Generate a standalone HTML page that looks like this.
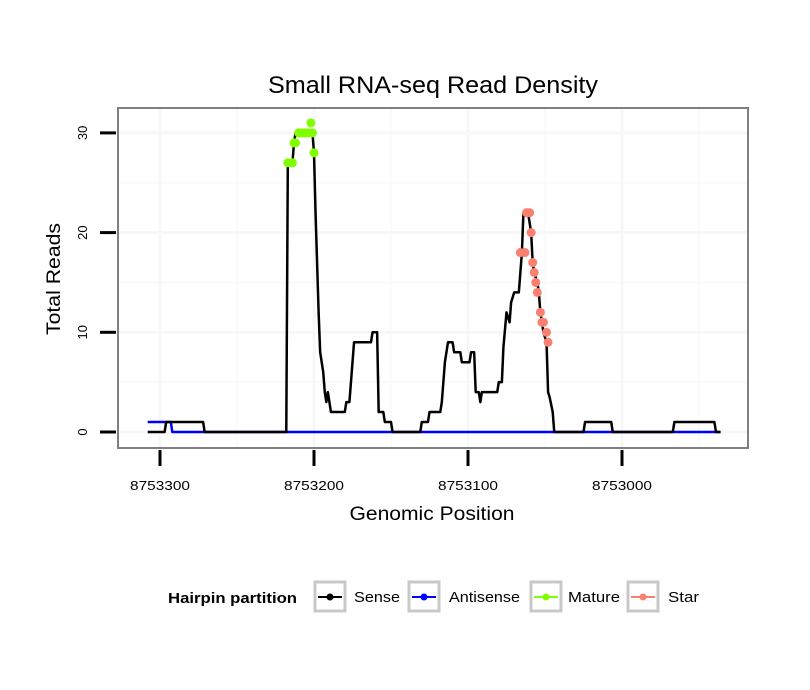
<!DOCTYPE html>
<html><head><meta charset="utf-8"><style>
html,body{margin:0;padding:0;background:#fff}
svg{display:block;font-family:"Liberation Sans",sans-serif}
</style></head><body>
<svg id="chart" width="810" height="690" viewBox="0 0 810 690">
<rect x="0" y="0" width="810" height="690" fill="#fff"/>
<text x="433" y="93" font-size="24" text-anchor="middle" textLength="330" lengthAdjust="spacingAndGlyphs">Small RNA-seq Read Density</text>
<g id="grid"></g>
<g id="series"></g>
<rect x="118" y="108" width="630" height="340" fill="none" stroke="#808080" stroke-width="2"/>
<g id="axes"></g>
<text x="432" y="520" font-size="19" text-anchor="middle" textLength="165" lengthAdjust="spacingAndGlyphs">Genomic Position</text>
<text transform="translate(60,279) rotate(-90)" font-size="19" text-anchor="middle" textLength="112" lengthAdjust="spacingAndGlyphs">Total Reads</text>
<g>
<text x="168" y="603" font-size="15" font-weight="bold" textLength="129" lengthAdjust="spacingAndGlyphs">Hairpin partition</text>
<g><rect x="315" y="582" width="30" height="29" fill="#fff" stroke="#c8c8c8" stroke-width="3"/><line x1="318" y1="597" x2="342" y2="597" stroke="#000" stroke-width="2"/><circle cx="330" cy="597" r="3.5" fill="#000"/><text x="354" y="602" font-size="15" textLength="46" lengthAdjust="spacingAndGlyphs">Sense</text></g>
<g><rect x="409" y="582" width="30" height="29" fill="#fff" stroke="#c8c8c8" stroke-width="3"/><line x1="412" y1="597" x2="436" y2="597" stroke="#0000ff" stroke-width="2"/><circle cx="424" cy="597" r="3.5" fill="#0000ff"/><text x="449" y="602" font-size="15" textLength="71" lengthAdjust="spacingAndGlyphs">Antisense</text></g>
<g><rect x="531" y="582" width="30" height="29" fill="#fff" stroke="#c8c8c8" stroke-width="3"/><line x1="534" y1="597" x2="558" y2="597" stroke="#7fff00" stroke-width="2"/><circle cx="546" cy="597" r="3.5" fill="#7fff00"/><text x="568" y="602" font-size="15" textLength="52" lengthAdjust="spacingAndGlyphs">Mature</text></g>
<g><rect x="628" y="582" width="30" height="29" fill="#fff" stroke="#c8c8c8" stroke-width="3"/><line x1="631" y1="597" x2="655" y2="597" stroke="#fa8072" stroke-width="2"/><circle cx="643" cy="597" r="3.5" fill="#fa8072"/><text x="668" y="602" font-size="15" textLength="31" lengthAdjust="spacingAndGlyphs">Star</text></g>
</g>
</svg>
<script>
const xTicks = [8753300, 8753200, 8753100, 8753000];
const xMinor = [8753250, 8753150, 8753050, 8752950];
const yTicks = [0, 10, 20, 30];
const yMinor = [5, 15, 25];
const sensePos = [8753308,8753297,8753296,8753272,8753271,8753218,8753217,8753214,8753213,8753212,8753201,8753200,8753199,8753197,8753196,8753194,8753193,8753192,8753191,8753190,8753189,8753180,8753179,8753177,8753176,8753174,8753163,8753162,8753159,8753158,8753155,8753154,8753150,8753149,8753131,8753130,8753126,8753125,8753118,8753117,8753115,8753113,8753110,8753109,8753105,8753104,8753099,8753098,8753096,8753095,8753093,8753092,8753091,8753081,8753080,8753078,8753077,8753075,8753073,8753072,8753070,8753067,8753065,8753064,8753061,8753059,8753058,8753057,8753055,8753054,8753053,8753052,8753051,8753049,8753048,8753047,8753045,8753044,8753025,8753024,8753007,8753006,8752967,8752966,8752940,8752939,8752936];
const senseVal = [0,0,1,1,0,0,27,27,29,30,30,28,22,12,8,6,4,3,4,3,2,2,3,3,5,9,9,10,10,2,2,1,1,0,0,1,1,2,2,3,7,9,9,8,8,7,7,8,8,4,4,3,4,4,5,5,8.5,12,11,13,14,14,18,22,22,20,17,16,15,14,12,11,10,9,4,3.5,2,0,0,1,1,0,0,1,1,0,0];
const antiPos = [8753308,8753293,8753292,8752936];
const antiVal = [1,1,0,0];
const maturePos = [8753217,8753214,8753213,8753212,8753210,8753208,8753206,8753204,8753202,8753201,8753200];
const matureVal = [27,27,29,29,30,30,30,30,31,30,28];
const starPos = [8753066,8753063,8753062,8753060,8753059,8753058,8753057,8753056,8753055,8753053,8753052,8753051,8753049,8753048];
const starVal = [18,18,22,22,20,17,16,15,14,12,11,11,10,9];

const NS='http://www.w3.org/2000/svg';
const X = p => 160 + (8753300 - p) * 1.54;
const Y = v => 432 - v * 9.97;
function mk(parent, tag, attrs){const e=document.createElementNS(NS,tag);for(const k in attrs)e.setAttribute(k,attrs[k]);document.getElementById(parent).appendChild(e);return e;}
yMinor.forEach(v=>{const e=mk('grid','line',{x1:118,x2:748,y1:Y(v),y2:Y(v),stroke:'#fafafa','stroke-width':2});

});
xMinor.forEach(p=>{const e=mk('grid','line',{x1:X(p),x2:X(p),y1:108,y2:448,stroke:'#fafafa','stroke-width':2});

});
yTicks.forEach(v=>{const e=mk('grid','line',{x1:118,x2:748,y1:Y(v),y2:Y(v),stroke:'#f7f7f7','stroke-width':3});

});
xTicks.forEach(p=>{const e=mk('grid','line',{x1:X(p),x2:X(p),y1:108,y2:448,stroke:'#f7f7f7','stroke-width':3});

});
yTicks.forEach(v=>{const t=mk('axes','line',{x1:100,x2:116,y1:Y(v),y2:Y(v),stroke:'#000','stroke-width':3});


const l=mk('axes','text',{transform:`translate(87,${Y(v)}) rotate(-90)`,'font-size':13,'text-anchor':'middle'});l.textContent=v;

});
xTicks.forEach(p=>{const t=mk('axes','line',{x1:X(p),x2:X(p),y1:450,y2:466,stroke:'#000','stroke-width':3});


const l=mk('axes','text',{x:X(p),y:490,'font-size':13,'text-anchor':'middle',textLength:60,lengthAdjust:'spacingAndGlyphs'});l.textContent=p;

});
function line(pos,val,color,name){const pts=pos.map((p,i)=>X(p)+','+Y(val[i])).join(' ');
const e=mk('series','polyline',{points:pts,fill:'none',stroke:color,'stroke-width':2.5,'stroke-linejoin':'round'});

}
line(antiPos,antiVal,'#0000ff','antisense-line');
line(sensePos,senseVal,'#000','sense-line');
function pts(pos,val,color,name){pos.forEach((p,i)=>{const c=mk('series','circle',{cx:X(p),cy:Y(val[i]),r:4.5,fill:color});

});}
pts(maturePos,matureVal,'#7fff00','mature-point');
pts(starPos,starVal,'#fa8072','star-point');
</script>
</body></html>
